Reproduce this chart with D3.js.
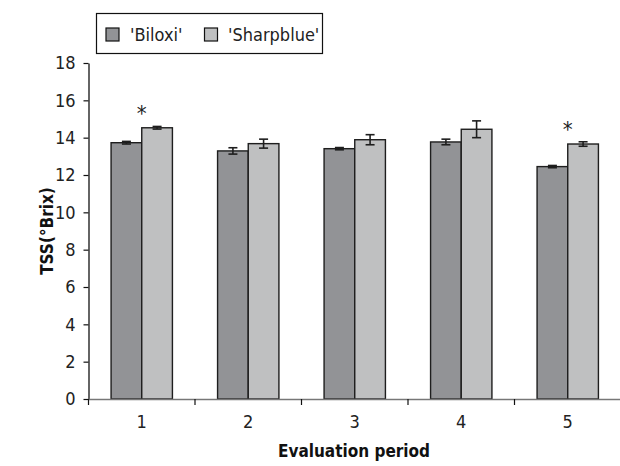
<!DOCTYPE html>
<html><head><meta charset="utf-8">
<script src="https://cdn.jsdelivr.net/npm/d3@7/dist/d3.min.js"></script>
<style>body{margin:0;background:#fff}svg{display:block}text{font-family:"DejaVu Sans Condensed","Liberation Sans Narrow",sans-serif}</style>
</head><body><svg id="c" width="620" height="466"></svg>
<script>
const periods = ["1","2","3","4","5"];
const seriesNames = ["'Biloxi'","'Sharpblue'"];
const biloxi = [13.73, 13.29, 13.41, 13.77, 12.45];
const sharpblue = [14.53, 13.68, 13.89, 14.45, 13.66];
const biloxiErr = [0.07, 0.17, 0.06, 0.15, 0.06];
const sharpblueErr = [0.07, 0.24, 0.27, 0.45, 0.12];
const significant = [true, false, false, false, true];
const yTicks = [0,2,4,6,8,10,12,14,16,18];
const colors = ["#929396","#bfc0c1"];

const svg = d3.select("#c");
const mLeft = 88.5, mRight = 621, mTop = 63, mBottom = 399;
const x = d3.scaleBand().domain(periods).range([mLeft, mRight]).paddingInner(0.424).paddingOuter(0.212);
const xs = d3.scaleBand().domain([0,1]).range([0, x.bandwidth()]);
const y = d3.scaleLinear().domain([0,18]).range([mBottom, mTop]);

const data = periods.map((p,i)=>({p, vals:[biloxi[i], sharpblue[i]], errs:[biloxiErr[i], sharpblueErr[i]], sig:significant[i]}));

// bars
const g = svg.append("g");
data.forEach(d=>{
  d.vals.forEach((v,k)=>{
    const bx = x(d.p)+xs(k);
    g.append("rect").attr("x",bx).attr("y",y(v)).attr("width",xs.bandwidth()).attr("height",y(0)-y(v))
      .attr("fill",colors[k]).attr("stroke","#1e1e1e").attr("stroke-width",1.4);
    const cx = bx + xs.bandwidth()/2, e = d.errs[k];
    g.append("line").attr("x1",cx).attr("x2",cx).attr("y1",y(v+e)).attr("y2",y(v-e)).attr("stroke","#1e1e1e").attr("stroke-width",1.6);
    [v+e, v-e].forEach(t=>g.append("line").attr("x1",cx-4.5).attr("x2",cx+4.5).attr("y1",y(t)).attr("y2",y(t)).attr("stroke","#1e1e1e").attr("stroke-width",1.6));
  });
  if (d.sig) {
    const top2 = d.vals[1] + d.errs[1];
    svg.append("text").attr("x", x(d.p)+x.bandwidth()/2).attr("y", y(top2)-5).attr("text-anchor","middle")
      .attr("font-size",22).attr("fill","#222").text("*");
  }
});

// y axis
const ya = svg.append("g").attr("transform",`translate(${mLeft},0)`)
  .call(d3.axisLeft(y).tickValues(yTicks).tickSize(5).tickPadding(8).tickSizeOuter(0));
ya.select(".domain").attr("stroke","#111").attr("stroke-width",1.3);
ya.selectAll(".tick line").attr("stroke","#111").attr("stroke-width",1.2);
ya.selectAll(".tick text").attr("font-size",18).attr("fill","#222").attr("font-family",null);

// x axis
const xa = svg.append("g").attr("transform",`translate(0,${mBottom})`)
  .call(d3.axisBottom(x).tickSize(0).tickPadding(16));
xa.select(".domain").attr("stroke","#777").attr("stroke-width",1.3);
xa.selectAll(".tick text").attr("font-size",18).attr("fill","#222").attr("font-family",null);
const bounds = periods.map(p=>x(p)-x.step()*x.paddingInner()/2);
svg.append("g").selectAll("line").data(bounds).join("line")
  .attr("x1",d=>d).attr("x2",d=>d).attr("y1",mBottom).attr("y2",mBottom+6).attr("stroke","#111").attr("stroke-width",1.2);

// titles
svg.append("text").attr("x",354).attr("y",457).attr("text-anchor","middle").attr("font-size",17).attr("font-weight","bold").attr("fill","#111").text("Evaluation period");
svg.append("text").attr("transform","translate(53,231) rotate(-90)").attr("text-anchor","middle").attr("font-size",17).attr("font-weight","bold").attr("fill","#111").text("TSS(°Brix)");

// legend
const lg = svg.append("g");
lg.append("rect").attr("x",96.5).attr("y",13.5).attr("width",226).attr("height",40).attr("fill","#fff").attr("stroke","#111").attr("stroke-width",1.2);
const lx = [106, 204.5], tx = [130, 228];
seriesNames.forEach((n,k)=>{
  lg.append("rect").attr("x",lx[k]).attr("y",28).attr("width",13).attr("height",13).attr("fill",colors[k]).attr("stroke","#111").attr("stroke-width",1.2);
  lg.append("text").attr("x",tx[k]).attr("y",41).attr("font-size",18).attr("fill","#222").text(n);
});
</script></body></html>
